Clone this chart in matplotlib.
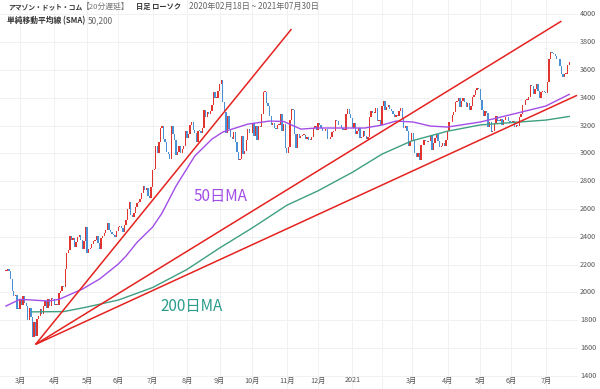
import numpy as np
import pandas as pd
import matplotlib
matplotlib.use("Agg")
import matplotlib.pyplot as plt
import matplotlib.transforms as mtransforms

plt.rcParams["font.family"] = ["Noto Sans CJK JP", "DejaVu Sans"]

# daily closes, one list per month (NYSE trading days)
close_2020_02 = [2155, 2170, 2153, 2096, 2009, 1972, 1980, 1884, 1883]
close_2020_03 = [1953, 1908, 1975, 1924, 1901, 1800, 1891, 1820, 1676, 1785, 1689,
                 1807, 1830, 1880, 1846, 1902, 1940, 1885, 1955, 1901, 1963, 1950]
close_2020_04 = [1907, 1918, 1906, 1997, 2011, 2043, 2042, 2168, 2283, 2307, 2408,
                 2375, 2393, 2328, 2363, 2399, 2410, 2376, 2314, 2372, 2474]
close_2020_05 = [2286, 2315, 2317, 2351, 2367, 2379, 2409, 2356, 2315, 2392, 2409,
                 2426, 2449, 2497, 2446, 2436, 2421, 2411, 2401, 2442]
close_2020_06 = [2472, 2478, 2460, 2437, 2483, 2524, 2600, 2647, 2557, 2545, 2572,
                 2615, 2641, 2653, 2675, 2713, 2764, 2734, 2754, 2692, 2680, 2758]
close_2020_07 = [2878, 2890, 3057, 3000, 3081, 3182, 3200, 3104, 3085, 3008, 2999,
                 2961, 3197, 3138, 3099, 2986, 3008, 3055, 3000, 3033, 3052, 3164]
close_2020_08 = [3111, 3138, 3205, 3225, 3167, 3148, 3081, 3162, 3161, 3149, 3183,
                 3312, 3260, 3297, 3284, 3307, 3346, 3441, 3401, 3401, 3450]
close_2020_09 = [3499, 3531, 3368, 3295, 3149, 3268, 3175, 3116, 3102, 3156, 3079,
                 3008, 2955, 2960, 3129, 2999, 3020, 3095, 3174, 3144, 3148]
close_2020_10 = [3221, 3125, 3200, 3099, 3195, 3190, 3286, 3443, 3443, 3363, 3338,
                 3272, 3207, 3217, 3184, 3176, 3204, 3207, 3286, 3162, 3211, 3036]
close_2020_11 = [3005, 3049, 3241, 3322, 3311, 3143, 3036, 3137, 3110, 3128, 3131,
                 3135, 3105, 3117, 3099, 3098, 3118, 3185, 3195, 3168]
close_2020_12 = [3220, 3203, 3186, 3162, 3159, 3177, 3104, 3101, 3116, 3156, 3165,
                 3241, 3236, 3201, 3206, 3185, 3172, 3172, 3283, 3322, 3285, 3257]
close_2021_01 = [3186, 3218, 3138, 3162, 3183, 3114, 3120, 3165, 3127, 3105, 3120,
                 3263, 3306, 3292, 3294, 3327, 3232, 3237, 3206]
close_2021_02 = [3342, 3380, 3312, 3331, 3352, 3322, 3305, 3286, 3262, 3277, 3268,
                 3308, 3328, 3249, 3180, 3194, 3159, 3057, 3092]
close_2021_03 = [3146, 3094, 3005, 2977, 3000, 2951, 3062, 3058, 3094, 3089, 3081,
                 3091, 3135, 3027, 3075, 3111, 3137, 3087, 3046, 3052, 3075, 3055, 3094]
close_2021_04 = [3161, 3226, 3223, 3279, 3299, 3373, 3379, 3400, 3333, 3379, 3399,
                 3373, 3334, 3362, 3310, 3340, 3409, 3417, 3459, 3471, 3467]
close_2021_05 = [3386, 3311, 3271, 3307, 3291, 3190, 3223, 3151, 3161, 3222, 3270,
                 3232, 3231, 3247, 3203, 3244, 3259, 3265, 3231, 3223]
close_2021_06 = [3218, 3233, 3187, 3206, 3198, 3265, 3281, 3349, 3346, 3383, 3384,
                 3405, 3489, 3486, 3427, 3463, 3503, 3449, 3401, 3443, 3448, 3440]
close_2021_07 = [3432, 3511, 3676, 3731, 3720, 3719, 3701, 3677, 3681, 3631, 3573,
                 3549, 3574, 3574, 3638, 3656]

nyse_holidays = ["2020-04-10", "2020-05-25", "2020-07-03", "2020-09-07", "2020-11-26",
                 "2020-12-25", "2021-01-01", "2021-01-18", "2021-02-15", "2021-04-02",
                 "2021-05-31", "2021-07-05"]

# simple moving averages
sma50_dates = ["2020-02-18", "2020-03-02", "2020-03-12", "2020-03-26", "2020-04-06",
               "2020-04-28", "2020-05-13", "2020-06-01", "2020-06-08", "2020-06-17",
               "2020-07-01", "2020-07-10", "2020-07-23", "2020-08-10", "2020-08-25",
               "2020-09-03", "2020-09-28", "2020-10-16", "2020-10-29", "2020-11-13",
               "2020-11-30", "2020-12-30", "2021-01-14", "2021-02-01", "2021-02-12",
               "2021-03-02", "2021-03-17", "2021-04-01", "2021-05-03", "2021-06-02",
               "2021-07-01", "2021-07-23"]
sma50_values = [1902, 1950, 1945, 1938, 1950, 2024, 2096, 2204, 2262, 2360, 2470, 2570,
                2765, 2981, 3103, 3154, 3211, 3233, 3230, 3175, 3183, 3183, 3183, 3204,
                3233, 3226, 3197, 3190, 3226, 3283, 3341, 3425]

sma200_dates = ["2020-03-12", "2020-04-09", "2020-05-01", "2020-06-01", "2020-07-01",
                "2020-08-03", "2020-09-01", "2020-10-01", "2020-11-02", "2020-12-01",
                "2021-01-04", "2021-02-01", "2021-03-01", "2021-04-01", "2021-05-03",
                "2021-06-01", "2021-07-01", "2021-07-23"]
sma200_values = [1860, 1862, 1895, 1945, 2035, 2165, 2320, 2465, 2627, 2731, 2864,
                 2995, 3090, 3160, 3205, 3222, 3240, 3266]

# trend fan from the March 2020 low
fan_start_date = "2020-03-16"
fan_start_price = 1626
fan_end_dates = ["2020-11-05", "2021-07-16", "2021-07-30"]
fan_end_prices = [3895, 3952, 3418]

month_labels = ["3月", "4月", "5月", "6月", "7月", "8月", "9月", "10月", "11月", "12月",
                "2021", "", "3月", "4月", "5月", "6月", "7月"]
price_ticks = list(range(1400, 4001, 200))

closes = np.array(close_2020_02 + close_2020_03 + close_2020_04 + close_2020_05
                  + close_2020_06 + close_2020_07 + close_2020_08 + close_2020_09
                  + close_2020_10 + close_2020_11 + close_2020_12 + close_2021_01
                  + close_2021_02 + close_2021_03 + close_2021_04 + close_2021_05
                  + close_2021_06 + close_2021_07, dtype=float)
opens = np.r_[closes[0], closes[:-1]]

dates = pd.bdate_range("2020-02-18", "2021-07-30", freq="C", holidays=nyse_holidays)
idx = np.arange(len(closes))


def date_pos(ds):
    return dates.get_indexer(pd.to_datetime(ds))


fig = plt.figure(figsize=(6.0, 3.89), dpi=100)
ax = fig.add_axes([0.0, 0.0, 0.963, 1.0])
ax.set_xlim(-3.8, 366.5)
ax.set_ylim(1305, 4104)

# month ticks at the first trading day of each month
month_start = pd.Series(np.arange(len(dates)), index=dates)
firsts = month_start.groupby([dates.year, dates.month]).first().values[1:]
ax.set_xticks(firsts[:len(month_labels)])
ax.set_xticklabels(month_labels)
ax.set_yticks(price_ticks)
ax.tick_params(axis="x", length=0, pad=-9, labelsize=5.2, colors="#555555")
ax.tick_params(axis="y", length=0, labelleft=False, labelright=False)
for s in ax.spines.values():
    s.set_visible(False)
ax.grid(True, color="#f1f1f1", linewidth=0.7)
ax.set_axisbelow(True)

# price labels on the right edge
right_tr = mtransforms.blended_transform_factory(ax.transAxes, ax.transData)
for v in price_ticks:
    ax.text(1.004, v, str(v), transform=right_tr, fontsize=5.2, color="#555555",
            ha="left", va="center", clip_on=False)

up = closes >= opens
body_lo = np.minimum(opens, closes)
body_h = np.maximum(np.abs(closes - opens), 6)
ax.bar(idx[up], body_h[up], bottom=body_lo[up], width=0.85, color="#e0352f",
       linewidth=0, zorder=2)
ax.bar(idx[~up], body_h[~up], bottom=body_lo[~up], width=0.85, color="#4a90d4",
       linewidth=0, zorder=2)

ax.plot(date_pos(sma50_dates), sma50_values, color="#a24ee6", linewidth=1.0, zorder=3)
ax.plot(date_pos(sma200_dates), sma200_values, color="#3f9f83", linewidth=1.0, zorder=3)

x0 = date_pos([fan_start_date])[0]
for xe, pe in zip(date_pos(fan_end_dates), fan_end_prices):
    ax.plot([x0, xe], [fan_start_price, pe], color="#e4221f", linewidth=1.1, zorder=4,
            solid_capstyle="butt")

ax.text(120.5, 2693, "50日MA", color="#a24ee6", fontsize=11, ha="left", va="center")
ax.text(99, 1900, "200日MA", color="#2c9d8c", fontsize=11, ha="left", va="center")

# header, segments laid out one after another
renderer = fig.canvas.get_renderer()


def header_line(y_px, x_px, parts):
    for text, bold, size, color, gap in parts:
        t = fig.text(x_px / 600, 1 - y_px / 389, text, fontsize=size, color=color,
                     fontweight="bold" if bold else "normal", va="center")
        x_px = t.get_window_extent(renderer).x1 + gap


header_line(6.5, 8, [("アマゾン・ドット・コム", True, 4.9, "#333333", 0),
                     ("【20分遅延】", False, 5.6, "#777777", 6),
                     ("日足 ローソク", True, 5.2, "#333333", 8),
                     ("2020年02月18日 ~ 2021年07月30日", False, 5.9, "#666666", 0)])
header_line(20.5, 7, [("単純移動平均線 (SMA)", True, 5.6, "#333333", 3),
                      ("50,200", False, 6.0, "#666666", 0)])

fig.savefig("out.png", dpi=100, facecolor="white")
